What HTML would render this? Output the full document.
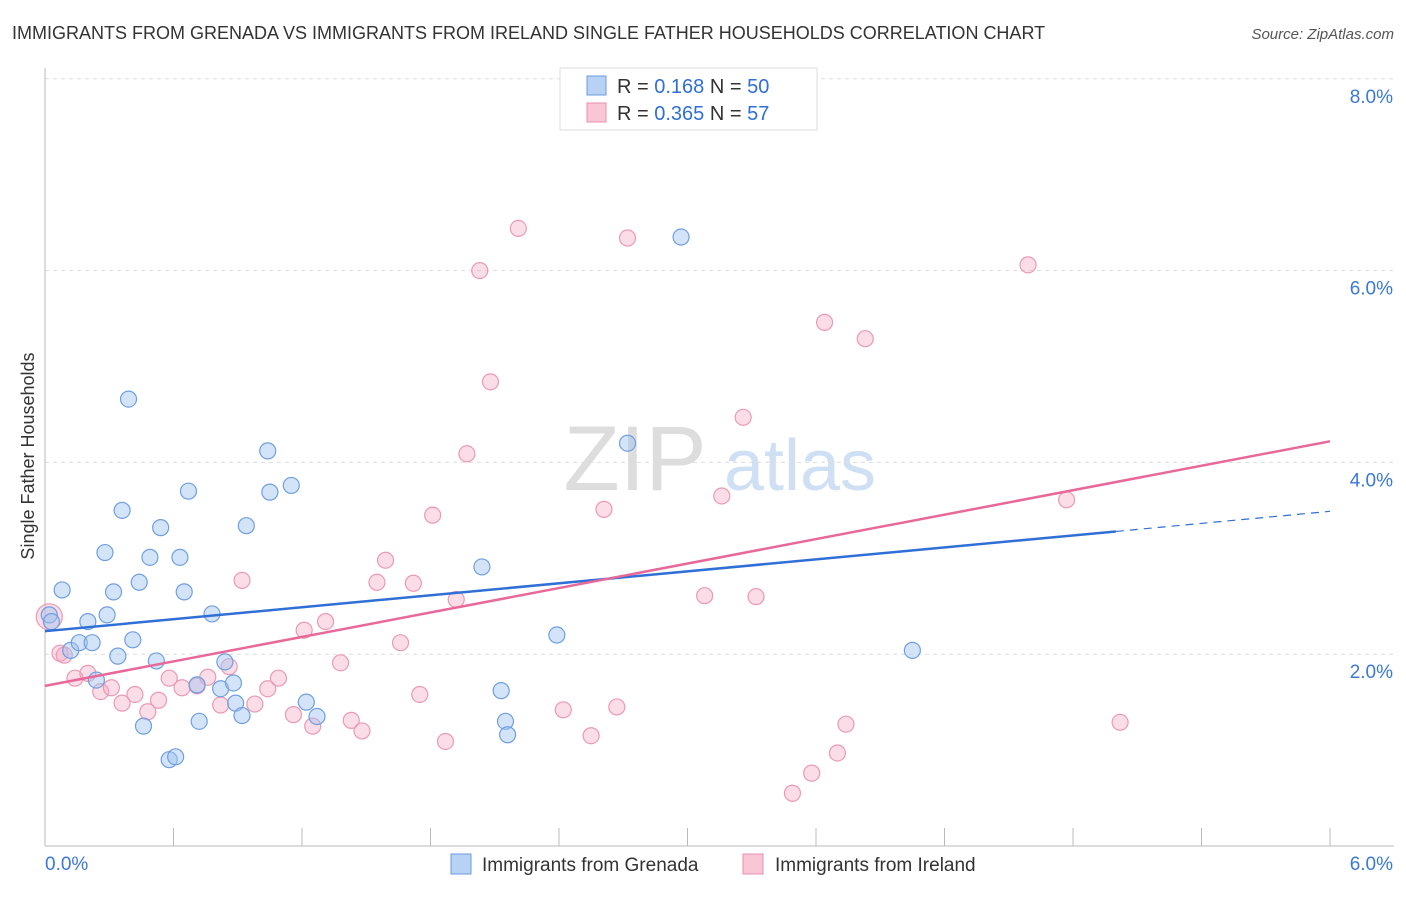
<!DOCTYPE html>
<html><head><meta charset="utf-8"><style>
body{margin:0;background:#fff;font-family:"Liberation Sans",sans-serif;}
svg text{font-family:"Liberation Sans",sans-serif;}
</style></head><body>
<svg width="1406" height="892" viewBox="0 0 1406 892">
<text x="12" y="39" font-size="18" fill="#333">IMMIGRANTS FROM GRENADA VS IMMIGRANTS FROM IRELAND SINGLE FATHER HOUSEHOLDS CORRELATION CHART</text>
<text x="1394" y="39" font-size="15" fill="#555" text-anchor="end" font-style="italic">Source: ZipAtlas.com</text>
<g>
<text x="635" y="490" font-size="92" fill="#ddd" text-anchor="middle" font-family="Liberation Serif">ZIP</text>
<text x="800" y="490" font-size="72" fill="#cfe0f5" text-anchor="middle">atlas</text>
</g>
<g id="grid"></g>
<g id="axes"></g>
<g id="marks"></g>
<text transform="translate(34,456) rotate(-90)" font-size="18" fill="#333" text-anchor="middle">Single Father Households</text>
<g>
<rect x="560" y="68" width="257" height="62" fill="#fff" stroke="#ddd"/>
<rect x="587" y="76" width="19" height="19" fill="#b8d2f4" stroke="#6a9be0"/>
<rect x="587" y="103" width="19" height="19" fill="#f9c6d6" stroke="#e890ac"/>
<text x="617" y="93" font-size="20" fill="#333">R = <tspan fill="#2f6fd6">0.168</tspan>   N = <tspan fill="#2f6fd6">50</tspan></text>
<text x="617" y="120" font-size="20" fill="#333">R = <tspan fill="#2f6fd6">0.365</tspan>   N = <tspan fill="#2f6fd6"> 57</tspan></text>
</g>
<g>
<rect x="451" y="854" width="20" height="20" fill="#b8d2f4" stroke="#6a9be0"/>
<text x="482" y="871" font-size="19" fill="#333">Immigrants from Grenada</text>
<rect x="743" y="854" width="20" height="20" fill="#f9c6d6" stroke="#e890ac"/>
<text x="775" y="871" font-size="19" fill="#333">Immigrants from Ireland</text>
</g>
</svg>
<script>
const yTicks=[2,4,6,8];
const yTickLabels=["2.0%","4.0%","6.0%","8.0%"];
const xTicks=[0,0.6,1.2,1.8,2.4,3.0,3.6,4.2,4.8,5.4,6.0];
const grenadaX=[0.02,0.03,0.08,0.12,0.16,0.20,0.22,0.24,0.28,0.29,0.32,0.34,0.36,0.39,0.41,0.44,0.46,0.49,0.52,0.54,0.58,0.61,0.63,0.65,0.67,0.71,0.72,0.78,0.82,0.84,0.88,0.89,0.92,0.94,1.04,1.05,1.15,1.22,1.27,2.04,2.13,2.15,2.16,2.39,2.72,2.97,4.05];
const grenadaY=[2.41,2.34,2.67,2.04,2.12,2.34,2.12,1.73,3.06,2.41,2.65,1.98,3.50,4.66,2.15,2.75,1.25,3.01,1.93,3.32,0.90,0.93,3.01,2.65,3.70,1.68,1.30,2.42,1.64,1.92,1.70,1.49,1.36,3.34,4.12,3.69,3.76,1.50,1.35,2.91,1.62,1.30,1.16,2.20,4.20,6.35,2.04];
const irelandX=[0.02,0.07,0.09,0.14,0.20,0.26,0.31,0.36,0.42,0.48,0.53,0.58,0.64,0.71,0.76,0.82,0.86,0.92,0.98,1.04,1.09,1.16,1.21,1.25,1.31,1.38,1.43,1.48,1.55,1.59,1.66,1.72,1.75,1.81,1.87,1.92,1.97,2.03,2.08,2.21,2.42,2.55,2.61,2.67,2.72,3.08,3.16,3.26,3.32,3.49,3.58,3.64,3.70,3.74,3.83,4.59,4.77,5.02];
const irelandY=[2.39,2.01,1.99,1.75,1.80,1.61,1.65,1.49,1.58,1.40,1.52,1.75,1.65,1.67,1.76,1.47,1.87,2.77,1.48,1.64,1.75,1.37,2.25,1.25,2.34,1.91,1.31,1.20,2.75,2.98,2.12,2.74,1.58,3.45,1.09,2.57,4.09,6.00,4.84,6.44,1.42,1.15,3.51,1.45,6.34,2.61,3.65,4.47,2.60,0.55,0.76,5.46,0.97,1.27,5.29,6.06,3.61,1.29];
const grenadaTrendX=[0,5.0,6.0];
const grenadaTrendY=[2.24,3.28,3.49];
const irelandTrendX=[0,6.0];
const irelandTrendY=[1.67,4.22];

const NS="http://www.w3.org/2000/svg";
const xs=v=>45+v*(1330-45)/6;
const ys=v=>846-v*95.9;
function mk(tag,attrs,parent){const e=document.createElementNS(NS,tag);for(const k in attrs)e.setAttribute(k,attrs[k]);parent.appendChild(e);return e;}
const grid=document.getElementById('grid'),axes=document.getElementById('axes'),marks=document.getElementById('marks');
yTicks.forEach((t,i)=>{
 const l=mk('line',{x1:45,x2:1394,y1:ys(t),y2:ys(t),stroke:'#ddd','stroke-dasharray':'4,4'},grid);
 
 
 const tx=mk('text',{x:1393,y:ys(t)+24,'font-size':19,fill:'#3b78d8','text-anchor':'end'},axes);
 tx.textContent=yTickLabels[i];
 
 
});
const ax=mk('line',{x1:45,x2:1394,y1:846,y2:846,stroke:'#bbb'},axes);


const ay=mk('line',{x1:45,x2:45,y1:68,y2:846,stroke:'#bbb'},axes);


xTicks.forEach(t=>{
 const l=mk('line',{x1:xs(t),x2:xs(t),y1:828,y2:846,stroke:'#bbb'},axes);
 
 
});
const xl0=mk('text',{x:45,y:870,'font-size':19,fill:'#3b78d8'},axes);xl0.textContent='0.0%';


const xl1=mk('text',{x:1393,y:870,'font-size':19,fill:'#3b78d8','text-anchor':'end'},axes);xl1.textContent='6.0%';



irelandX.forEach((x,i)=>{
 const c=mk('circle',{cx:xs(x),cy:ys(irelandY[i]),r:i==0?13:8,fill:'rgba(245,170,195,0.4)',stroke:'#eb9ab4','stroke-width':1.2},marks);
 
 
});
grenadaX.forEach((x,i)=>{
 const c=mk('circle',{cx:xs(x),cy:ys(grenadaY[i]),r:8,fill:'rgba(160,195,240,0.45)',stroke:'#6f9fe2','stroke-width':1.2},marks);
 
 
});
const gl=mk('line',{x1:xs(grenadaTrendX[0]),y1:ys(grenadaTrendY[0]),x2:xs(grenadaTrendX[1]),y2:ys(grenadaTrendY[1]),stroke:'#2f6fd6','stroke-width':2.5},marks);


const gd=mk('line',{x1:xs(grenadaTrendX[1]),y1:ys(grenadaTrendY[1]),x2:xs(grenadaTrendX[2]),y2:ys(grenadaTrendY[2]),stroke:'#2f6fd6','stroke-width':1.2,'stroke-dasharray':'8,6'},marks);


const il=mk('line',{x1:xs(irelandTrendX[0]),y1:ys(irelandTrendY[0]),x2:xs(irelandTrendX[1]),y2:ys(irelandTrendY[1]),stroke:'#e8689a','stroke-width':2.5},marks);


</script>
</body></html>
